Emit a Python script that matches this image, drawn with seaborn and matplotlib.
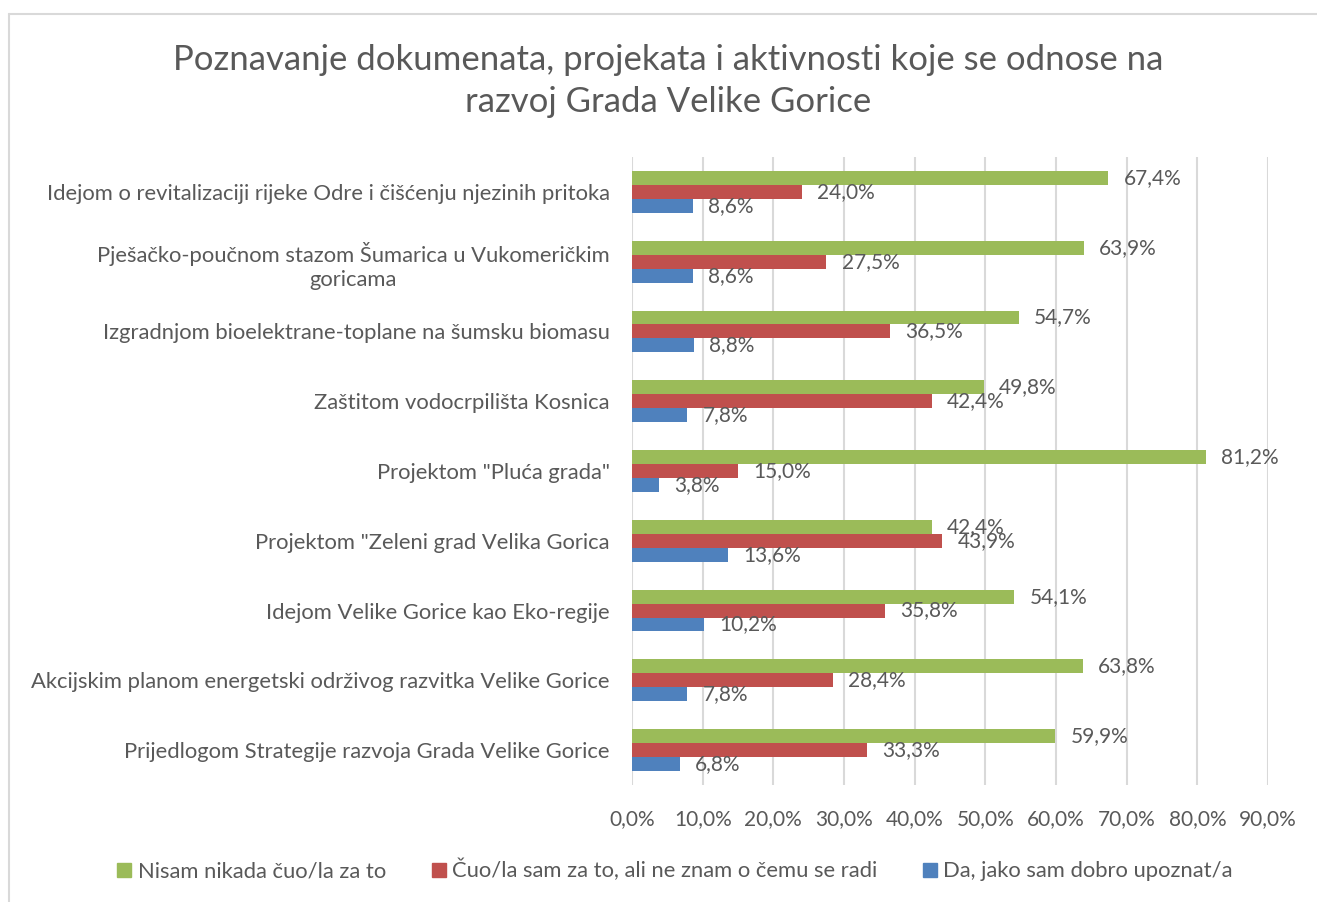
import matplotlib
matplotlib.use('Agg')
import matplotlib.pyplot as plt
from matplotlib.lines import Line2D
import seaborn as sns
import pandas as pd

# Podaci
categories = [
    'Idejom o revitalizaciji rijeke Odre i čišćenju njezinih pritoka',
    'Pješačko-poučnom stazom Šumarica u Vukomeričkim\ngoricama',
    'Izgradnjom bioelektrane-toplane na šumsku biomasu',
    'Zaštitom vodocrpilišta Kosnica',
    'Projektom "Pluća grada"',
    'Projektom "Zeleni grad Velika Gorica',
    'Idejom Velike Gorice kao Eko-regije',
    'Akcijskim planom energetski održivog razvitka Velike Gorice',
    'Prijedlogom Strategije razvoja Grada Velike Gorice',
]
series_names = [
    'Nisam nikada čuo/la za to',
    'Čuo/la sam za to, ali ne znam o čemu se radi',
    'Da, jako sam dobro upoznat/a',
]
nisam = [67.4, 63.9, 54.7, 49.8, 81.2, 42.4, 54.1, 63.8, 59.9]
cuo = [24.0, 27.5, 36.5, 42.4, 15.0, 43.9, 35.8, 28.4, 33.3]
upoznat = [8.6, 8.6, 8.8, 7.8, 3.8, 13.6, 10.2, 7.8, 6.8]
x_ticks = [0, 10, 20, 30, 40, 50, 60, 70, 80, 90]

COLORS = ['#9BBB59', '#C0504D', '#4F81BD']
TEXT = '#595959'

rows = []
for name, vals in zip(series_names, [nisam, cuo, upoznat]):
    for cat, v in zip(categories, vals):
        rows.append({'kategorija': cat, 'odgovor': name, 'postotak': v})
df = pd.DataFrame(rows)

sns.set_style('white')
plt.rcParams['font.family'] = ['Lato', 'DejaVu Sans']

fig = plt.figure(figsize=(13.17, 9.02), dpi=100)
ax = fig.add_axes([632 / 1317, 1 - 785 / 902, (1268 - 632) / 1317, (785 - 157) / 902])

sns.barplot(data=df, y='kategorija', x='postotak', hue='odgovor',
            order=categories, hue_order=series_names, palette=COLORS,
            orient='h', width=0.6, linewidth=0, saturation=1, ax=ax, legend=False)

for cont in ax.containers:
    labels = [f'{b.get_width():.1f}'.replace('.', ',') + '%' for b in cont]
    ax.bar_label(cont, labels=labels, padding=11, fontsize=15, color=TEXT)

ax.set_xlim(0, 90)
ax.set_xticks(x_ticks)
ax.set_xticklabels([f'{t:.1f}'.replace('.', ',') + '%' for t in x_ticks], fontsize=15, color=TEXT)
ax.set_xlabel('')
ax.set_ylabel('')
ax.tick_params(axis='y', labelsize=15.8, labelcolor=TEXT, length=0, pad=16)
ax.tick_params(axis='x', length=0, pad=17)
for lbl in ax.get_yticklabels():
    lbl.set_multialignment('center')
    lbl.set_linespacing(1.25)

ax.grid(axis='x', color='#D9D9D9', linewidth=1.5)
ax.set_axisbelow(True)
for s in ax.spines.values():
    s.set_visible(False)

fig.text(668 / 1317, 1 - 81 / 902,
         'Poznavanje dokumenata, projekata i aktivnosti koje se odnose na\nrazvoj Grada Velike Gorice',
         ha='center', va='center', fontsize=25, color=TEXT, linespacing=1.42)

handles = [Line2D([], [], marker='s', linestyle='none', markersize=10,
                  markerfacecolor=c, markeredgecolor=c) for c in COLORS]
fig.legend(handles, series_names, loc='center', bbox_to_anchor=(674 / 1317, 1 - 870 / 902),
           ncol=3, frameon=False, fontsize=15.8, handletextpad=0.2, columnspacing=2.0,
           labelcolor=TEXT, handlelength=0.8)

# okvir grafikona
fig.add_artist(Line2D([9 / 1317, 1], [1 - 14 / 902, 1 - 14 / 902], color='#D9D9D9', linewidth=1.5))
fig.add_artist(Line2D([9 / 1317, 9 / 1317], [0, 1 - 14 / 902], color='#D9D9D9', linewidth=1.5))

fig.savefig('out.png', dpi=100)
